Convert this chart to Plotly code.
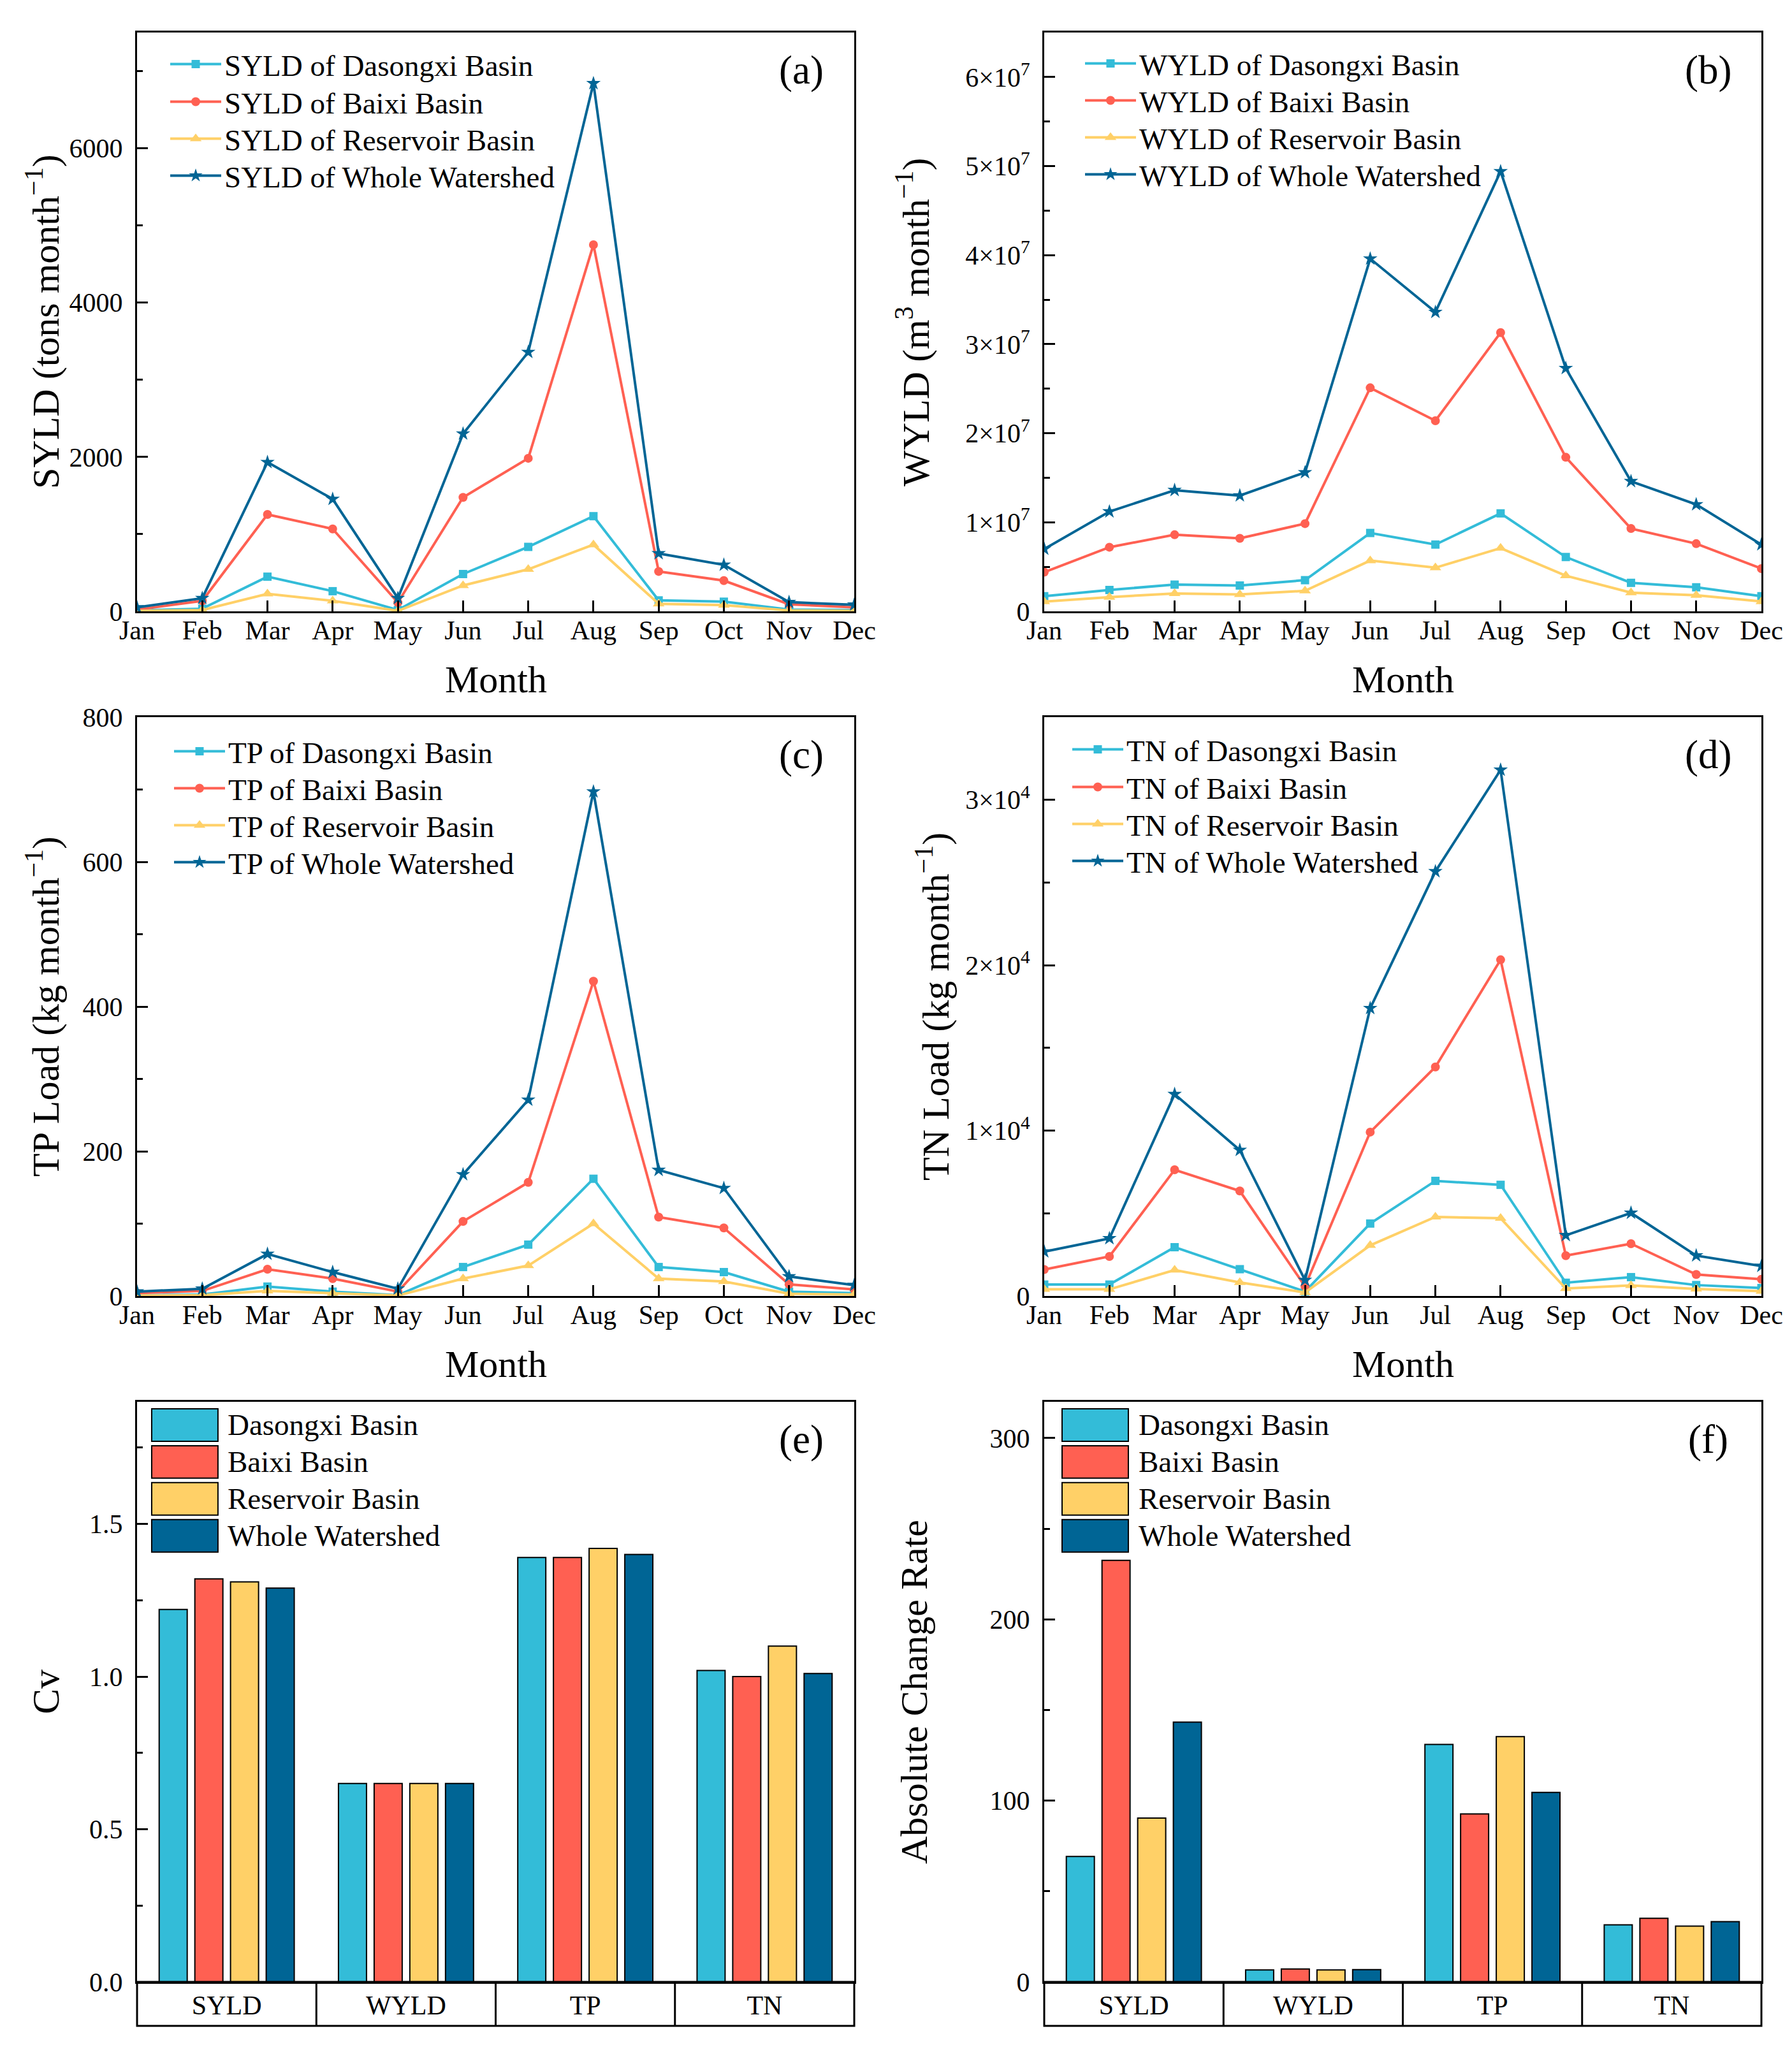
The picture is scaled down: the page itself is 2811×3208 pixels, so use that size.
import plotly.graph_objects as go

# ---------------- data ----------------
months = ["Jan", "Feb", "Mar", "Apr", "May", "Jun", "Jul", "Aug", "Sep", "Oct", "Nov", "Dec"]
basins = ["Dasongxi Basin", "Baixi Basin", "Reservoir Basin", "Whole Watershed"]

syld_dasongxi = [11, 34, 449, 261, 17, 483, 835, 1233, 142, 125, 23, 17]
syld_baixi = [23, 136, 1256, 1068, 114, 1477, 1983, 4750, 517, 398, 91, 51]
syld_reservoir = [6, 17, 227, 136, 6, 335, 545, 864, 97, 80, 11, 6]
syld_whole = [51, 170, 1932, 1455, 170, 2301, 3358, 6841, 750, 602, 119, 85]

wyld_dasongxi = [1.7e6, 2.4e6, 3.0e6, 2.9e6, 3.5e6, 8.8e6, 7.5e6, 1.10e7, 6.1e6, 3.2e6, 2.7e6, 1.7e6]
wyld_baixi = [4.4e6, 7.2e6, 8.6e6, 8.2e6, 9.85e6, 2.51e7, 2.14e7, 3.13e7, 1.73e7, 9.3e6, 7.6e6, 4.8e6]
wyld_reservoir = [1.1e6, 1.6e6, 2.0e6, 1.9e6, 2.3e6, 5.7e6, 4.9e6, 7.1e6, 4.0e6, 2.1e6, 1.8e6, 1.1e6]
wyld_whole = [7.0e6, 1.12e7, 1.36e7, 1.30e7, 1.56e7, 3.96e7, 3.36e7, 4.94e7, 2.73e7, 1.46e7, 1.20e7, 7.5e6]

tp_dasongxi = [1, 2, 13, 6, 1, 40, 71, 162, 40, 33, 6, 4]
tp_baixi = [4, 7, 37, 24, 6, 103, 157, 435, 109, 94, 16, 9]
tp_reservoir = [0.6, 1, 7, 4, 0.6, 24, 42, 100, 24, 20, 3, 2]
tp_whole = [6, 10, 58, 33, 10, 168, 271, 697, 174, 149, 27, 15]

tn_dasongxi = [690, 690, 2950, 1620, 266, 4380, 6960, 6720, 800, 1140, 660, 480]
tn_baixi = [1600, 2390, 7630, 6350, 585, 9910, 13850, 20330, 2440, 3160, 1300, 1010]
tn_reservoir = [400, 400, 1570, 820, 210, 3060, 4780, 4700, 450, 640, 425, 290]
tn_whole = [2680, 3480, 12200, 8820, 957, 17400, 25670, 31810, 3670, 5020, 2440, 1810]

indicators = ["SYLD", "WYLD", "TP", "TN"]
cv_dasongxi = [1.22, 0.65, 1.39, 1.02]
cv_baixi = [1.32, 0.65, 1.39, 1.00]
cv_reservoir = [1.31, 0.65, 1.42, 1.10]
cv_whole = [1.29, 0.65, 1.40, 1.01]

rate_dasongxi = [69.2, 6.6, 131.0, 31.5]
rate_baixi = [232.5, 7.1, 92.7, 35.1]
rate_reservoir = [90.4, 6.6, 135.3, 30.8]
rate_whole = [143.3, 6.8, 104.5, 33.2]

wyld_tickvals = [0, 1e7, 2e7, 3e7, 4e7, 5e7, 6e7]
wyld_ticktext = ["0", "1×10<sup>7</sup>", "2×10<sup>7</sup>", "3×10<sup>7</sup>",
                 "4×10<sup>7</sup>", "5×10<sup>7</sup>", "6×10<sup>7</sup>"]
tn_tickvals = [0, 1e4, 2e4, 3e4]
tn_ticktext = ["0", "1×10<sup>4</sup>", "2×10<sup>4</sup>", "3×10<sup>4</sup>"]

# ---------------- style ----------------
W, H = 2811, 3208
FONT = "Liberation Serif, Times New Roman, serif"
colors = ["#33BCD8", "#FF6052", "#FFD067", "#006595"]
symbols = ["square", "circle", "triangle-up", "star"]
msizes = [13, 14, 16, 17]

XL = [207 / W, 1332 / W]
XR = [1630 / W, 2755 / W]
Y1 = [1 - 951 / H, 1 - 43 / H]
Y2 = [1 - 2025 / H, 1 - 1117 / H]
Y3 = [1 - 3101 / H, 1 - 2191 / H]

fig = go.Figure()

# (trace series, axes, legend text start x in px, legend row centres in px)
line_panels = [
    ("SYLD", [syld_dasongxi, syld_baixi, syld_reservoir, syld_whole], "x", "y", 352, [93, 152, 210, 268]),
    ("WYLD", [wyld_dasongxi, wyld_baixi, wyld_reservoir, wyld_whole], "x2", "y2", 1787, [92, 150, 208, 266]),
    ("TP", [tp_dasongxi, tp_baixi, tp_reservoir, tp_whole], "x3", "y3", 358, [1171, 1229, 1287, 1345]),
    ("TN", [tn_dasongxi, tn_baixi, tn_reservoir, tn_whole], "x4", "y4", 1767, [1168, 1227, 1285, 1343]),
]
legfont = dict(family=FONT, size=47, color="black")
legend_layout = {}
k = 0
for pname, series, xa, ya, tx, rows in line_panels:
    for i, vals in enumerate(series):
        k += 1
        lname = "legend" if k == 1 else f"legend{k}"
        fig.add_trace(go.Scatter(
            x=months, y=vals, mode="lines+markers",
            name=f"{pname} of {basins[i]}",
            line=dict(color=colors[i], width=4),
            marker=dict(symbol=symbols[i], size=msizes[i], color=colors[i]),
            xaxis=xa, yaxis=ya, legend=lname,
        ))
        legend_layout[lname] = dict(
            x=(tx - 98) / W, y=1 - rows[i] / H, xanchor="left", yanchor="middle",
            font=legfont, bgcolor="rgba(0,0,0,0)", borderwidth=0, itemwidth=80,
        )

bar_panels = [
    ([cv_dasongxi, cv_baixi, cv_reservoir, cv_whole], "x5", "y5"),
    ([rate_dasongxi, rate_baixi, rate_reservoir, rate_whole], "x6", "y6"),
]
for series, xa, ya in bar_panels:
    for i, vals in enumerate(series):
        fig.add_trace(go.Bar(
            x=indicators, y=vals, name=basins[i],
            marker=dict(color=colors[i], line=dict(color="black", width=2)),
            xaxis=xa, yaxis=ya, showlegend=False,
        ))

tickfont = dict(family=FONT, size=42, color="black")


def xcat(domain, anchor, cats, rng, ticks=True):
    d = dict(domain=domain, anchor=anchor, type="category", categoryorder="array",
             categoryarray=cats, range=rng, showline=True, linecolor="black", linewidth=3,
             mirror=True, showgrid=False, zeroline=False, tickfont=tickfont, automargin=False)
    if ticks:
        d.update(ticks="inside", ticklen=17, tickwidth=3, tickcolor="black", ticklabelstandoff=-9)
    else:
        d.update(ticks="", ticklabelstandoff=-2)
    return d


def ylin(domain, anchor, rng, dtick, mdtick, tickvals=None, ticktext=None, fmt=None):
    d = dict(domain=domain, anchor=anchor, range=rng, showline=True, linecolor="black",
             linewidth=3, mirror=True, showgrid=False, zeroline=False, automargin=False,
             ticks="inside", ticklen=17, tickwidth=3, tickcolor="black", tickfont=tickfont,
             ticklabelstandoff=11,
             minor=dict(ticks="inside", ticklen=9, tickwidth=3, tickcolor="black", dtick=mdtick))
    if tickvals is not None:
        d.update(tickmode="array", tickvals=tickvals, ticktext=ticktext)
    else:
        d.update(tick0=0, dtick=dtick)
    if fmt:
        d.update(tickformat=fmt)
    return d


fig.update_layout(
    width=W, height=H, autosize=False,
    margin=dict(l=0, r=0, t=0, b=0, pad=0, autoexpand=False),
    paper_bgcolor="white", plot_bgcolor="white",
    font=dict(family=FONT, color="black"),
    barmode="group", bargap=0.204, bargroupgap=0.214,
    xaxis=xcat(XL, "y", months, [0, 11]),
    yaxis=ylin(Y1, "x", [0, 7500], 2000, 1000),
    xaxis2=xcat(XR, "y2", months, [0, 11]),
    yaxis2=ylin(Y1, "x2", [0, 6.5e7], None, 5e6, wyld_tickvals, wyld_ticktext),
    xaxis3=xcat(XL, "y3", months, [0, 11]),
    yaxis3=ylin(Y2, "x3", [0, 800], 200, 100),
    xaxis4=xcat(XR, "y4", months, [0, 11]),
    yaxis4=ylin(Y2, "x4", [0, 3.5e4], None, 5000, tn_tickvals, tn_ticktext),
    xaxis5=xcat(XL, "y5", indicators, [-0.5, 3.5], ticks=False),
    yaxis5=ylin(Y3, "x5", [0, 1.9], 0.5, 0.25, fmt=".1f"),
    xaxis6=xcat(XR, "y6", indicators, [-0.5, 3.5], ticks=False),
    yaxis6=ylin(Y3, "x6", [0, 320], 100, 50),
    **legend_layout,
)

annotations = []
shapes = []

# panel labels
for lab, xa in zip(["(a)", "(b)", "(c)", "(d)", "(e)", "(f)"], ["x", "x2", "x3", "x4", "x5", "x6"]):
    ya = "y" + xa[1:]
    annotations.append(dict(text=lab, xref=f"{xa} domain", yref=f"{ya} domain", x=0.926, y=0.935,
                            xanchor="center", yanchor="middle", showarrow=False,
                            font=dict(family=FONT, size=63, color="black")))

# axis titles
titlefont = dict(family=FONT, size=60, color="black")
ytitles = [
    ("SYLD (tons month<sup>−1</sup>)", 59, (43 + 951) / 2),
    ("WYLD (m<sup>3</sup> month<sup>−1</sup>)", 1424, (43 + 951) / 2),
    ("TP Load (kg month<sup>−1</sup>)", 60, (1117 + 2025) / 2),
    ("TN Load (kg month<sup>−1</sup>)", 1456, (1117 + 2025) / 2),
    ("Cv", 64, (2191 + 3101) / 2),
    ("Absolute Change Rate", 1426, (2191 + 3101) / 2),
]
for txt, xp, yp in ytitles:
    annotations.append(dict(text=txt, xref="paper", yref="paper", x=xp / W, y=1 - yp / H,
                            xanchor="center", yanchor="middle", textangle=-90, showarrow=False,
                            font=titlefont))
for xc, yp in [((207 + 1332) / 2, 1058), ((1630 + 2755) / 2, 1058),
               ((207 + 1332) / 2, 2132), ((1630 + 2755) / 2, 2132)]:
    annotations.append(dict(text="Month", xref="paper", yref="paper", x=xc / W, y=1 - yp / H,
                            xanchor="center", yanchor="middle", showarrow=False, font=titlefont))

# category box under bar charts + custom bar legends
for xa, ya, sx0, sx1, tx in [("x5", "y5", 0.0204, 0.1128, 0.124), ("x6", "y6", 0.0249, 0.1173, 0.130)]:
    xr, yr = f"{xa} domain", f"{ya} domain"
    shapes.append(dict(type="rect", xref=xr, yref=yr, x0=0, x1=1, y0=-0.0758, y1=0,
                       line=dict(color="black", width=3)))
    for b in [0.25, 0.5, 0.75]:
        shapes.append(dict(type="line", xref=xr, yref=yr, x0=b, x1=b, y0=-0.0758, y1=0,
                           line=dict(color="black", width=3)))
    for i, name in enumerate(basins):
        top = 0.988 - i * 0.0637
        shapes.append(dict(type="rect", xref=xr, yref=yr, x0=sx0, x1=sx1, y0=top - 0.056, y1=top,
                           fillcolor=colors[i], line=dict(color="black", width=2)))
        annotations.append(dict(text=name, xref=xr, yref=yr, x=tx, y=top - 0.028,
                                xanchor="left", yanchor="middle", showarrow=False, font=legfont))

fig.update_layout(annotations=annotations, shapes=shapes)
fig.write_html("out.html")
